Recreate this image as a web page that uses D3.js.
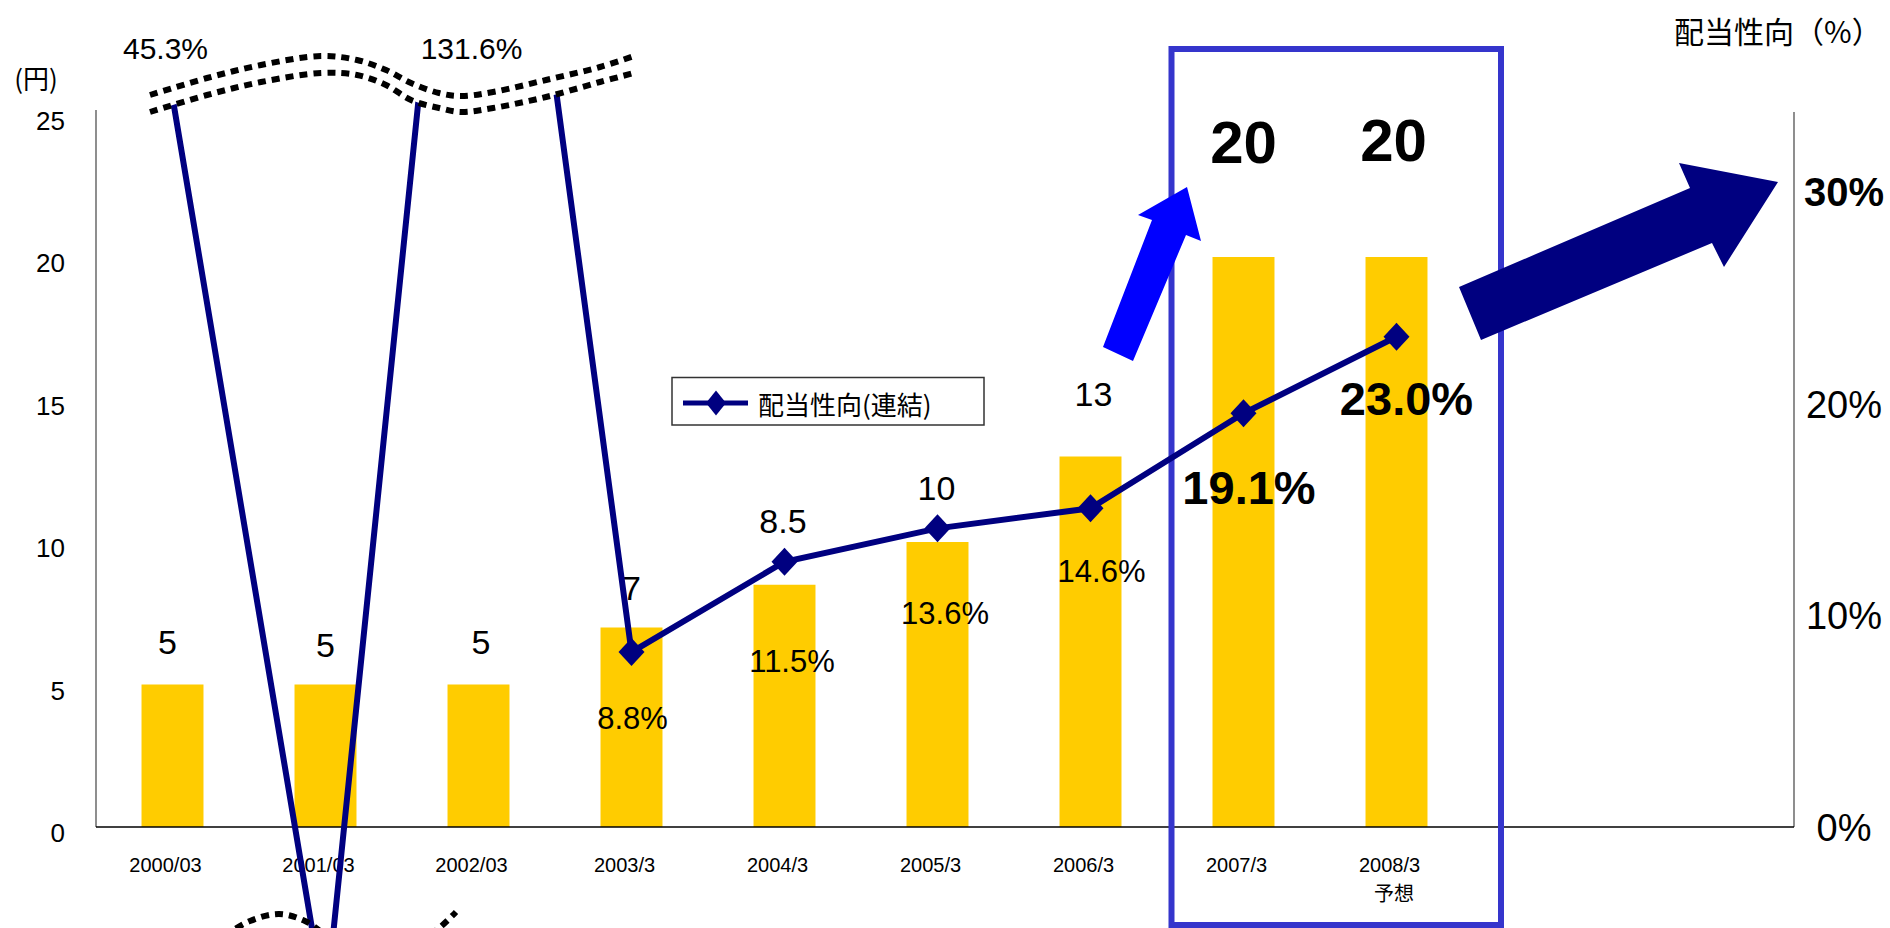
<!DOCTYPE html>
<html>
<head>
<meta charset="utf-8">
<script src="https://cdn.jsdelivr.net/npm/d3@7"></script>
<style>
  body { margin: 0; background: #fff; }
  svg { display: block; }
</style>
</head>
<body>
<div id="chart"></div>
<script>
// ---- data ----
var categories = ["2000/03", "2001/03", "2002/03", "2003/3", "2004/3", "2005/3", "2006/3", "2007/3", "2008/3"];
var subLabels = ["", "", "", "", "", "", "", "", "予想"];
var dividend = [5, 5, 5, 7, 8.5, 10, 13, 20, 20];
var dividendText = ["5", "5", "5", "7", "8.5", "10", "13", "20", "20"];
// payout ratio as plotted (first three run off the broken axis)
var payout = [34.5, -8.6, 62.1, 8.27, 12.54, 14.12, 15.07, 19.56, 23.18];
var payoutText = ["45.3%", null, "131.6%", "8.8%", "11.5%", "13.6%", "14.6%", "19.1%", "23.0%"];
var leftTicks = [0, 5, 10, 15, 20, 25];
var rightTicks = [0, 10, 20, 30];

// label placement (hand placed text boxes in the original)
var barLabelLift  = [42.5, 39.5, 42.5, 40, 64, 54.5, 62.5, 115.5, 117.5];
var barLabelShift = [-5, 0, 2.5, 0, -1.5, -1, 3, 0, -3];
var pctLabelDx = [-7, 0, -7, 1, 7.5, 7.5, 11, 5.5, 10];
var pctLabelDy = [0, 0, 0, 66, 99, 85, 63, 74, 61];

var LAT = "'Liberation Sans', Arial, sans-serif";
var NARROW = "'Liberation Sans Narrow', 'Arial Narrow', 'Liberation Sans', sans-serif";
var JP = "'Noto Sans CJK JP', 'Noto Sans CJK SC', sans-serif";

var W = 1890, H = 928;
var plot = {left: 96, right: 1794, top: 110, bottom: 827};

var svg = d3.select("#chart").append("svg")
    .attr("width", W)
    .attr("height", H);

// 11 slots, last two empty
var x = d3.scaleBand()
    .domain(d3.range(11))
    .range([plot.left, plot.left + 153 * 11])
    .paddingInner(0.595)
    .paddingOuter(0.2975);
var xc = function(i) { return x(i) + x.bandwidth() / 2; };

var yL = d3.scaleLinear().domain([0, 25]).range([plot.bottom, 114.5]);
var yR = d3.scaleLinear().domain([0, 33.9]).range([plot.bottom, plot.top]);

// bars
svg.append("g").selectAll("rect")
    .data(dividend)
    .enter().append("rect")
    .attr("x", function(d, i) { return x(i); })
    .attr("y", function(d) { return yL(d); })
    .attr("width", x.bandwidth())
    .attr("height", function(d) { return yL(0) - yL(d); })
    .attr("fill", "#ffcc00");

// axes lines (no ticks)
svg.append("line")
    .attr("x1", plot.left).attr("x2", plot.left)
    .attr("y1", plot.top).attr("y2", plot.bottom)
    .attr("stroke", "#444").attr("stroke-width", 1.2);
svg.append("line")
    .attr("x1", plot.right).attr("x2", plot.right)
    .attr("y1", 112).attr("y2", plot.bottom)
    .attr("stroke", "#444").attr("stroke-width", 1.2);
svg.append("line")
    .attr("x1", plot.left).attr("x2", plot.right)
    .attr("y1", plot.bottom).attr("y2", plot.bottom)
    .attr("stroke", "#000").attr("stroke-width", 1.5);

// left tick labels
svg.append("g").selectAll("text")
    .data(leftTicks)
    .enter().append("text")
    .attr("x", 65)
    .attr("y", function(d) { return yL(d) + 15; })
    .attr("text-anchor", "end")
    .style("font-family", LAT)
    .style("font-size", "26px")
    .text(function(d) { return d; });

// right tick labels
svg.append("g").selectAll("text")
    .data(rightTicks)
    .enter().append("text")
    .attr("x", 1844)
    .attr("y", function(d) { return yR(d) + 14; })
    .attr("text-anchor", "middle")
    .style("font-family", NARROW)
    .style("font-size", function(d) { return d === 30 ? "40px" : "38px"; })
    .style("font-weight", function(d) { return d === 30 ? "bold" : "normal"; })
    .text(function(d) { return d + "%"; });

// x labels
svg.append("g").selectAll("text")
    .data(categories)
    .enter().append("text")
    .attr("x", function(d, i) { return xc(i) - 7; })
    .attr("y", 872)
    .attr("text-anchor", "middle")
    .style("font-family", LAT)
    .style("font-size", "20px")
    .text(function(d) { return d; });
svg.append("g").selectAll("text")
    .data(subLabels)
    .enter().append("text")
    .attr("x", function(d, i) { return xc(i) - 2.5; })
    .attr("y", 901)
    .attr("text-anchor", "middle")
    .style("font-family", JP)
    .style("font-size", "20px")
    .text(function(d) { return d; });

// axis titles
svg.append("text")
    .attr("x", 36).attr("y", 89)
    .attr("text-anchor", "middle")
    .style("font-family", JP).style("font-size", "26px")
    .text("(円)");
svg.append("text")
    .attr("x", 1674).attr("y", 43)
    .style("font-family", JP).style("font-size", "30px")
    .text("配当性向（%）");

// bar value labels
svg.append("g").selectAll("text")
    .data(dividend)
    .enter().append("text")
    .attr("x", function(d, i) { return xc(i) + barLabelShift[i]; })
    .attr("y", function(d, i) {
        var big = d >= 20;
        return yL(d) - barLabelLift[i] + (big ? 21.5 : 12.2);
    })
    .attr("text-anchor", "middle")
    .style("font-family", LAT)
    .style("font-size", function(d) { return d >= 20 ? "60px" : "34px"; })
    .style("font-weight", function(d) { return d >= 20 ? "bold" : "normal"; })
    .text(function(d, i) { return dividendText[i]; });

// highlight box
svg.append("rect")
    .attr("x", 1171.5).attr("y", 49)
    .attr("width", 329.5).attr("height", 876)
    .attr("fill", "none")
    .attr("stroke", "#3535cc")
    .attr("stroke-width", 6);

// axis break waves
var wave = d3.line().curve(d3.curveCatmullRom);
var upperWave = [[150,95],[207,78],[261,65],[321,56],[357,60],[386,70],[411,83],[439,93],[461,96],[493,92],[546,80],[600,67],[634,56]];
var lowerWave = [[150,112],[207,95],[261,82],[321,73],[357,75],[386,85],[411,100],[439,108],[461,112],[493,108],[546,97],[600,82],[634,73]];
var bottomWave = [[224,936],[250,921],[279,914],[305,921],[335,940],[390,952],[430,935],[456,912]];

svg.append("defs").append("clipPath")
    .attr("id", "lineClip")
    .append("path")
    .attr("d", wave(lowerWave) + "L1890,73L1890,1100L150,1100Z");

// payout line
var line = d3.line()
    .x(function(d, i) { return xc(i); })
    .y(function(d) { return yR(d); });

svg.append("path")
    .datum(payout)
    .attr("clip-path", "url(#lineClip)")
    .attr("d", line)
    .attr("fill", "none")
    .attr("stroke", "#000080")
    .attr("stroke-width", 6)
    .attr("stroke-linejoin", "miter");

var diamond = "M0,-14L13,0L0,14L-13,0Z";
svg.append("g").selectAll("path")
    .data(payout)
    .enter().filter(function(d) { return d >= 0 && d <= yR.domain()[1]; })
    .append("path")
    .attr("d", diamond)
    .attr("transform", function(d) {
        var i = payout.indexOf(d);
        return "translate(" + xc(i) + "," + yR(d) + ")";
    })
    .attr("fill", "#000080");

[upperWave, lowerWave, bottomWave].forEach(function(pts) {
    svg.append("path")
        .attr("d", wave(pts))
        .attr("fill", "none")
        .attr("stroke", "#000")
        .attr("stroke-width", 6)
        .attr("stroke-dasharray", "8,6");
});

// payout labels
svg.append("g").selectAll("text")
    .data(payout)
    .enter().append("text")
    .filter(function(d, i) { return payoutText[i] !== null; })
    .attr("x", function(d) { return xc(payout.indexOf(d)) + pctLabelDx[payout.indexOf(d)]; })
    .attr("y", function(d) {
        var i = payout.indexOf(d);
        if (d > yR.domain()[1]) return 48 + 10.7;
        var big = i >= 7;
        return yR(d) + pctLabelDy[i] + (big ? 16.8 : 11);
    })
    .attr("text-anchor", "middle")
    .style("font-family", LAT)
    .style("font-size", function(d) {
        var i = payout.indexOf(d);
        return i >= 7 ? "47px" : (d > yR.domain()[1] ? "30px" : "31px");
    })
    .style("font-weight", function(d) { return payout.indexOf(d) >= 7 ? "bold" : "normal"; })
    .text(function(d) { return payoutText[payout.indexOf(d)]; });

// legend
var lg = svg.append("g");
lg.append("rect")
    .attr("x", 672).attr("y", 377.5)
    .attr("width", 312).attr("height", 47.5)
    .attr("fill", "#fff").attr("stroke", "#333").attr("stroke-width", 1.5);
lg.append("line")
    .attr("x1", 683).attr("x2", 748)
    .attr("y1", 403).attr("y2", 403)
    .attr("stroke", "#000080").attr("stroke-width", 5);
lg.append("path")
    .attr("d", "M0,-12.5L10,0L0,12.5L-10,0Z")
    .attr("transform", "translate(716,403)")
    .attr("fill", "#000080");
lg.append("text")
    .attr("x", 758).attr("y", 415)
    .style("font-family", JP).style("font-size", "26px")
    .text("配当性向(連結)");

// arrows
svg.append("path")
    .attr("d", "M1103,347L1152,220L1138,215L1187,187L1201,241L1186,235L1133,361Z")
    .attr("fill", "#0000ff");
svg.append("path")
    .attr("d", "M1459,287L1690,188L1679,163L1778,182L1724,267L1712,243L1481,340Z")
    .attr("fill", "#000080");
</script>
</body>
</html>
